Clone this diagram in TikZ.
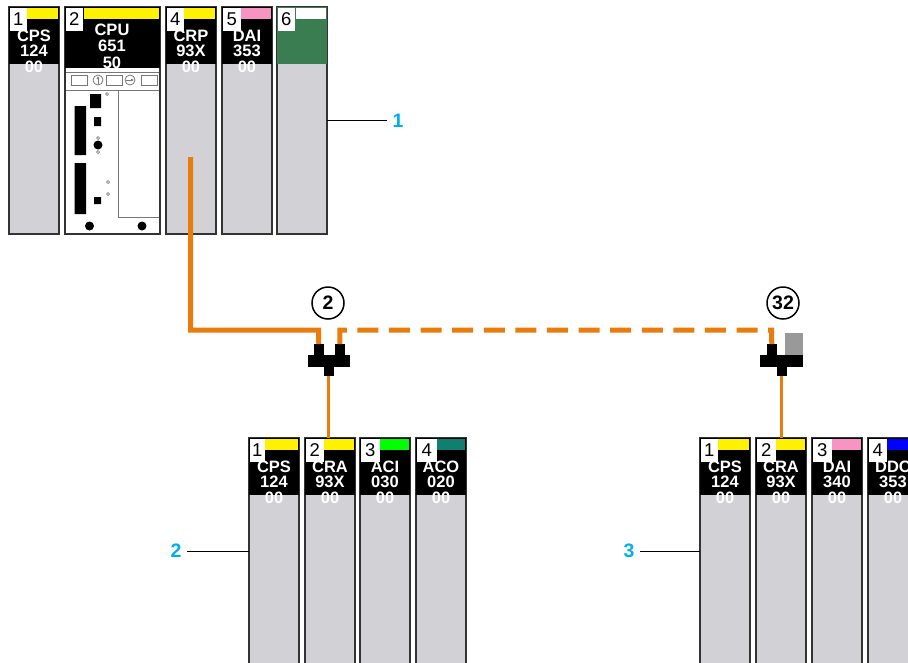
\documentclass[tikz,border=0pt]{standalone}
\usepackage{fontspec}
\setmainfont{Liberation Sans}
\usetikzlibrary{arrows.meta,positioning,calc}
\definecolor{Frame}{HTML}{333333}
\definecolor{Body}{HTML}{D1D1D6}
\definecolor{Fibre}{HTML}{E87D0D}
\definecolor{Callout}{HTML}{00AEEF}
\definecolor{Pinkish}{HTML}{F794C4}
\definecolor{Teal}{HTML}{0F7F70}
\definecolor{Ethernet}{HTML}{3A7D50}
\definecolor{Port}{HTML}{999999}
\definecolor{Panel}{HTML}{777777}

\begin{document}
\begin{tikzpicture}[
 x=1pt,y=-1pt,
 every node/.style={inner sep=0pt,outer sep=0pt},
 modbody/.style={draw=Frame,line width=1.5pt,fill=Body,anchor=north west,minimum height=227pt},
 modhead/.style={fill=black,anchor=north west},
 modstrip/.style={anchor=north west,minimum height=11pt},
 modnum/.style={fill=white,anchor=north west,minimum height=23pt,font=\fontsize{18.5}{18.5}\selectfont},
 modtext/.style={text=white,anchor=base,font=\bfseries\fontsize{16.5}{16.5}\selectfont},
 tee/.style={fill=black,anchor=north west},
 fibre/.style={draw=Fibre,line width=5pt},
 drop/.style={draw=Fibre,line width=3pt},
 tag/.style={draw=black,line width=1.5pt,circle,minimum size=32pt,font=\bfseries\fontsize{19.5}{19.5}\selectfont},
 lab/.style={text=Callout,outer sep=6pt,font=\bfseries\fontsize{19.5}{19.5}\selectfont},
 leader/.style={draw=black,line width=1.2pt},
 cpuline/.style={draw=Panel,line width=.8pt},
 cpuhole/.style={draw=Panel,line width=.7pt,fill=white},
 cpublack/.style={fill=black}
]
\clip (0,0) rectangle (908,662);
% modules: name/left/top/width/strip start/number/colour/three lines
\foreach \m/\x/\y/\w/\s/\n/\c/\la/\lb/\lc in {
  a1/9/7/50/27/1/yellow/CPS/124/00,
  a4/166/7/50/184/4/yellow/CRP/93X/00,
  a5/222/7/50/241/5/Pinkish/DAI/353/00,
  b1/249/438/50/265/1/yellow/CPS/124/00,
  b2/305/438/50/324/2/yellow/CRA/93X/00,
  b3/360/438/50/380/3/green/ACI/030/00,
  b4/416/438/50/437/4/Teal/ACO/020/00,
  c1/700/438/50/718/1/yellow/CPS/124/00,
  c2/756/438/50/776/2/yellow/CRA/93X/00,
  c3/812/438/50/832/3/Pinkish/DAI/340/00,
  c4/868/438/50/887/4/blue/DDC/353/00}{
  \node[modbody,minimum width=\w pt] (\m) at (\x,\y) {};
  \node[modhead,minimum width=\w pt,minimum height=57pt] (\m h) at (\x,\y) {};
  \node[modstrip,fill=\c,minimum width=\x+\w-\s-1 pt] (\m s) at (\s,\y+1) {};
  \node[modtext] (\m t) at (\x+25,\y+34) {\la};
  \node[modtext] (\m u) at (\x+25,\y+49.5) {\lb};
  \node[modtext] (\m v) at (\x+25,\y+65) {\lc};
  \node[modnum,minimum width=\s-\x-1 pt] (\m n) at (\x+.7,\y+1) {\n};
}
% slot 6 has no reference text
\node[modbody,minimum width=50pt] (a6) at (277,7) {};
\node[modhead,fill=Ethernet,minimum width=50pt,minimum height=57pt] (a6h) at (277,7) {};
\node[modstrip,fill=white,minimum width=30pt] (a6s) at (296,8) {};
\node[modnum,minimum width=17pt] (a6n) at (277.7,8) {6};
% processor
\node[modbody,fill=white,minimum width=95pt] (a2) at (65,7) {};
\node[modhead,minimum width=95pt,minimum height=61pt] (a2h) at (65,7) {};
\node[modstrip,fill=yellow,minimum width=75pt] (a2s) at (84,8) {};
\node[modtext] (a2t) at (112,35) {CPU};
\node[modtext] (a2u) at (112,51.5) {651};
\begin{scope}
\clip (65,7) rectangle (160,68);
\node[modtext] (a2v) at (112,68.5) {50};
\end{scope}
\node[modnum,minimum width=17pt] (a2n) at (65.7,8) {2};
\draw[cpuline] (66,72)--(159,72) (66,90)--(159,90) (118,90)--(118,217)--(159,217);
\foreach \x in {71,106,141}{\draw[cpuline] (\x,75) rectangle (\x+16,85);}
\draw[cpuline] (98,80) circle (5) (130,80) circle (5);
\draw[cpuline,-{Latex[length=3pt,width=3pt]}] (98,84)--(98,76);
\draw[cpuline,-{Latex[length=3pt,width=3pt]}] (126,80)--(134,80);
\fill[cpublack] (90,94) rectangle (101,108) (94,117) rectangle (101,126) (74.5,106) rectangle (86,155) (74.5,163) rectangle (86,214) (94,197) rectangle (101,204);
\fill[cpublack] (98,145) circle (4.5) (89.5,226) circle (4.5) (142,226) circle (4.5);
\foreach \x/\y in {107/94,98/138,98/152,108/182,108/194}{\draw[cpuhole] (\x,\y) circle (1.5);}
% tap 2
\node[tag] (t2) at (328,303) {2};
\node[tee,minimum width=9.5pt,minimum height=12pt] (tap2l) at (314,344) {};
\node[tee,minimum width=9.5pt,minimum height=12pt] (tap2r) at (335,344) {};
\node[tee,minimum width=42.5pt,minimum height=12pt] (tap2b) at (307.5,355) {};
\node[tee,minimum width=9.5pt,minimum height=9pt] (tap2d) at (324,366.5) {};
% tap 32
\node[tag] (t32) at (783,303) {32};
\node[fill=Port,anchor=north west,minimum width=18pt,minimum height=22pt] (port) at (785,333) {};
\node[tee,minimum width=9.5pt,minimum height=12pt] (tap32l) at (767,344) {};
\node[tee,minimum width=43pt,minimum height=12pt] (tap32b) at (760,355) {};
\node[tee,minimum width=9.5pt,minimum height=9pt] (tap32d) at (777,366.5) {};
% cables
\coordinate (crpport) at (190.5,157);
\coordinate (trunkl) at (318.7,330);
\coordinate (trunkr) at (771.7,330);
\draw[fibre] (crpport) |- (trunkl) -- (tap2l.north);
\draw[fibre,dash pattern=on 21pt off 10.6pt] (tap2r.north) |- (trunkr) -- (tap32l.north);
\draw[drop] (tap2d.south) -- (b2.north -| tap2d.south);
\draw[drop] (tap32d.south) -- (c2.north -| tap32d.south);
% callouts
\node[lab] (lab1) at (398,120.5) {1};
\node[lab] (lab2) at (176,551) {2};
\node[lab] (lab3) at (629,551) {3};
\draw[leader] (a6.east) -- (a6.east -| lab1.west);
\draw[leader] (b1.west) -- (b1.west -| lab2.east);
\draw[leader] (c1.west) -- (c1.west -| lab3.east);
\end{tikzpicture}
\end{document}
